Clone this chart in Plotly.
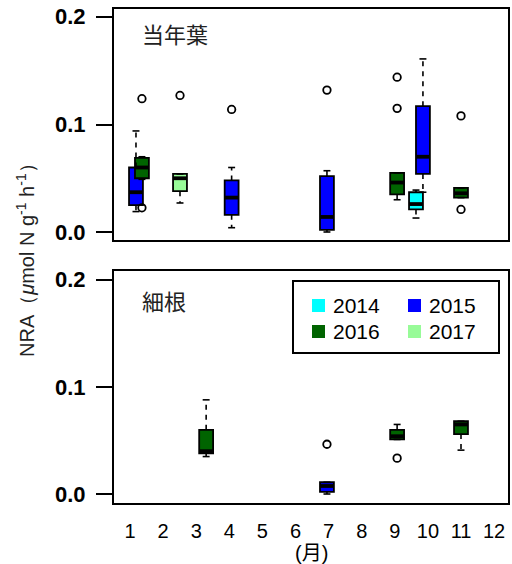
import plotly.graph_objects as go

# --- data -------------------------------------------------------------
years = ["2014", "2015", "2016", "2017"]
year_colors = ["#00FFFF", "#0000FF", "#006400", "#98FB98"]

month_ticks = list(range(1, 13))
month_labels = [str(m) for m in month_ticks]

nra_ticks = [0.0, 0.1, 0.2]
nra_labels = ["0.0", "0.1", "0.2"]

# current-year leaves (当年葉)
leaf_pos = [1.18, 1.36, 2.51, 4.07, 6.95, 9.07, 9.64, 9.85, 11.0]
leaf_year = ["2015", "2016", "2017", "2015", "2015", "2016", "2014", "2015", "2016"]
leaf_low = [0.019, 0.049, 0.027, 0.004, 0.000, 0.030, 0.013, 0.037, 0.032]
leaf_q1 = [0.025, 0.050, 0.038, 0.016, 0.002, 0.035, 0.021, 0.054, 0.032]
leaf_med = [0.037, 0.060, 0.050, 0.032, 0.014, 0.046, 0.026, 0.070, 0.036]
leaf_q3 = [0.060, 0.069, 0.054, 0.048, 0.052, 0.055, 0.037, 0.117, 0.041]
leaf_high = [0.094, 0.070, 0.054, 0.060, 0.057, 0.055, 0.039, 0.161, 0.041]
leaf_out = [[], [0.124, 0.0225], [0.127], [0.114], [0.132], [0.144, 0.115], [], [], [0.108, 0.021]]

# fine roots (細根)
root_pos = [3.30, 6.95, 9.07, 11.0]
root_year = ["2016", "2015", "2016", "2016"]
root_low = [0.035, 0.000, 0.051, 0.041]
root_q1 = [0.038, 0.002, 0.051, 0.056]
root_med = [0.040, 0.0075, 0.054, 0.065]
root_q3 = [0.060, 0.011, 0.060, 0.068]
root_high = [0.088, 0.011, 0.065, 0.068]
root_out = [[], [0.0465], [0.0335], []]

BOX_W = 0.42
FONT = "Liberation Sans, Arial, sans-serif"
CJK = "Noto Sans CJK JP, sans-serif"

fig = go.Figure()


def add_panel(xa, ya, pos, yr, low, q1, med, q3, high, outs):
    color_of = dict(zip(years, year_colors))
    order = sorted(range(len(pos)), key=lambda i: years.index(yr[i]))
    for i in order:
        p = pos[i]
        # box body from Q1 to Q3
        fig.add_trace(go.Bar(
            x=[p], y=[q3[i] - q1[i]], base=[q1[i]], width=BOX_W,
            marker=dict(color=color_of[yr[i]], line=dict(color="black", width=1.8)),
            xaxis=xa, yaxis=ya, showlegend=False, hoverinfo="skip"))
    mx, my, wx, wy, cx, cy, ox, oy = [], [], [], [], [], [], [], []
    for i in order:
        p = pos[i]
        mx += [p - BOX_W / 2, p + BOX_W / 2, None]
        my += [med[i], med[i], None]
        wx += [p, p, None, p, p, None]
        wy += [q3[i], high[i], None, q1[i], low[i], None]
        cx += [p - BOX_W / 4, p + BOX_W / 4, None, p - BOX_W / 4, p + BOX_W / 4, None]
        cy += [high[i], high[i], None, low[i], low[i], None]
        for v in outs[i]:
            ox.append(p)
            oy.append(v)
    # whiskers (dashed), caps, medians, outliers
    fig.add_trace(go.Scatter(x=wx, y=wy, mode="lines", xaxis=xa, yaxis=ya,
                             line=dict(color="black", width=1.6, dash="5px,5px"),
                             showlegend=False, hoverinfo="skip"))
    fig.add_trace(go.Scatter(x=cx, y=cy, mode="lines", xaxis=xa, yaxis=ya,
                             line=dict(color="black", width=1.6),
                             showlegend=False, hoverinfo="skip"))
    fig.add_trace(go.Scatter(x=mx, y=my, mode="lines", xaxis=xa, yaxis=ya,
                             line=dict(color="black", width=3.8),
                             showlegend=False, hoverinfo="skip"))
    fig.add_trace(go.Scatter(x=ox, y=oy, mode="markers", xaxis=xa, yaxis=ya,
                             marker=dict(symbol="circle-open", size=7.5, color="black",
                                         line=dict(color="black", width=1.8)),
                             showlegend=False, hoverinfo="skip"))


add_panel("x", "y", leaf_pos, leaf_year, leaf_low, leaf_q1, leaf_med, leaf_q3, leaf_high, leaf_out)
add_panel("x2", "y2", root_pos, root_year, root_low, root_q1, root_med, root_q3, root_high, root_out)

W, H = 512, 564
xdom = [114 / W, 508 / W]
top_dom = [1 - 240 / H, 1 - 9 / H]
bot_dom = [1 - 503 / H, 1 - 271 / H]
xrange = [0.516, 12.42]

common_x = dict(range=xrange, showgrid=False, zeroline=False, showline=True, mirror=True,
                linecolor="black", linewidth=2, ticks="", domain=xdom,
                tickvals=month_ticks, ticktext=month_labels,
                tickfont=dict(family=FONT, size=20, color="black"))
common_y = dict(showgrid=False, zeroline=False, showline=True, mirror=True,
                linecolor="black", linewidth=2, ticks="outside", ticklen=16,
                tickwidth=1.6, tickcolor="black", tickvals=nra_ticks,
                showticklabels=False)

fig.update_layout(
    width=W, height=H, margin=dict(l=0, r=0, t=0, b=0),
    paper_bgcolor="white", plot_bgcolor="white",
    barmode="overlay", showlegend=False,
    xaxis=dict(common_x, anchor="y", showticklabels=False),
    yaxis=dict(common_y, anchor="x", domain=top_dom, range=[-0.00744, 0.20744]),
    xaxis2=dict(common_x, anchor="y2", ticklabelstandoff=9),
    yaxis2=dict(common_y, anchor="x2", domain=bot_dom, range=[-0.0084, 0.2084]),
)

annotations = []
# bold NRA tick labels, set a little away from the tick marks
for yref in ("y", "y2"):
    for v, lab in zip(nra_ticks, nra_labels):
        annotations.append(dict(text="<b>%s</b>" % lab, x=88 / W, y=v, xref="paper", yref=yref,
                                xanchor="right", yanchor="middle", showarrow=False,
                                font=dict(family=FONT, size=22, color="black")))

annotations += [
    dict(text="当年葉", x=140 / W, y=1 - 33 / H, xref="paper", yref="paper",
         xanchor="left", yanchor="middle", showarrow=False,
         font=dict(family=CJK, size=22, color="#222")),
    dict(text="細根", x=140 / W, y=1 - 300 / H, xref="paper", yref="paper",
         xanchor="left", yanchor="middle", showarrow=False,
         font=dict(family=CJK, size=22, color="#222")),
    dict(text="NRA（<i>μ</i>mol N g<sup>-1</sup> h<sup>-1</sup>）",
         x=25 / W, y=1 - 255 / H, xref="paper", yref="paper",
         xanchor="center", yanchor="middle", textangle=-90, showarrow=False,
         font=dict(family=FONT, size=20, color="#222")),
    dict(text="(月)", x=311 / W, y=1 - 553 / H, xref="paper", yref="paper",
         xanchor="center", yanchor="middle", showarrow=False,
         font=dict(family="Liberation Sans, Noto Sans CJK JP", size=20, color="black")),
]

# legend box drawn with shapes and text
shapes = [dict(type="rect", xref="paper", yref="paper",
               x0=293 / W, x1=499 / W, y0=1 - 353 / H, y1=1 - 281 / H,
               line=dict(color="black", width=2), fillcolor="white", layer="above")]
leg_cols = [312, 408]
leg_rows = [305, 331]
for k, (yr, col) in enumerate(zip(years, year_colors)):
    lx = leg_cols[k % 2]
    ly = leg_rows[k // 2]
    shapes.append(dict(type="rect", xref="paper", yref="paper",
                       x0=lx / W, x1=(lx + 13) / W, y0=1 - (ly + 7) / H, y1=1 - (ly - 6) / H,
                       line=dict(width=0), fillcolor=col, layer="above"))
    annotations.append(dict(text=yr, x=(lx + 19) / W, y=1 - ly / H, xref="paper", yref="paper",
                            xanchor="left", yanchor="middle", showarrow=False,
                            font=dict(family=FONT, size=21, color="black")))

fig.update_layout(annotations=annotations, shapes=shapes)
fig.write_html("out.html")
